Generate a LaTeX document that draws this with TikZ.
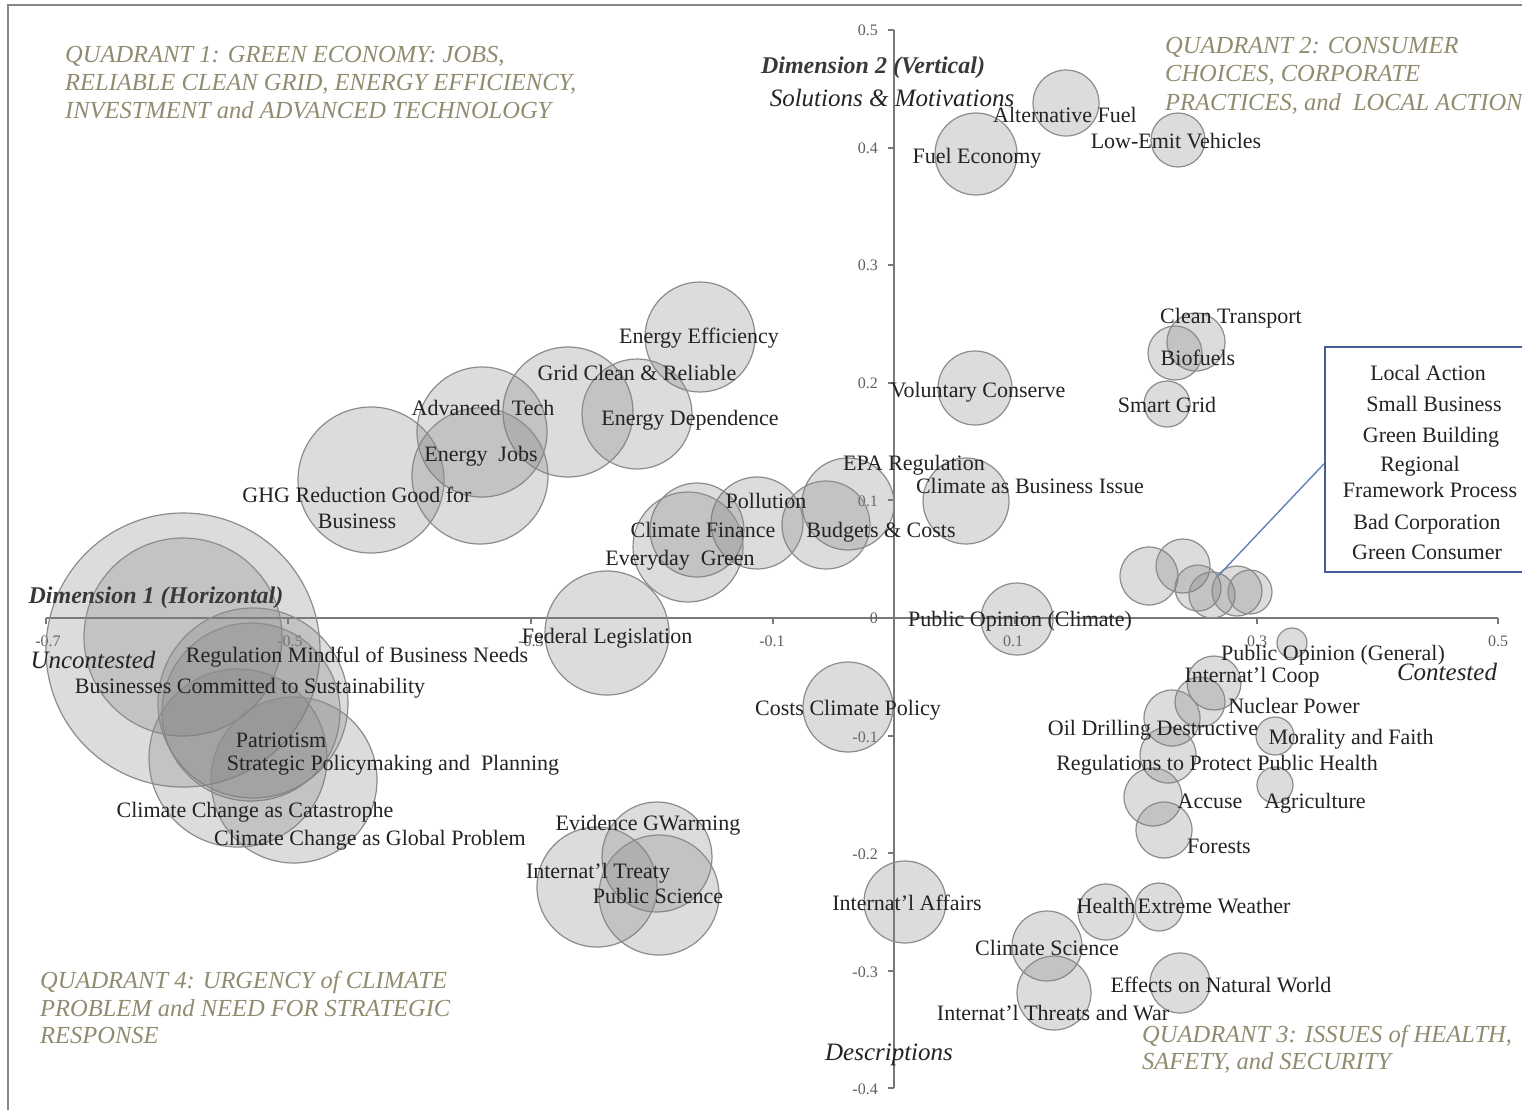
\documentclass[tikz,border=0pt]{standalone}
\usepackage{fontspec}
\setmainfont{Liberation Serif}
\definecolor{bubline}{RGB}{140,140,140}
\definecolor{bubfill}{RGB}{128,128,128}
\definecolor{axcol}{RGB}{120,120,120}
\definecolor{txt}{RGB}{35,35,35}
\definecolor{quadcol}{RGB}{145,140,112}
\definecolor{ticktxt}{RGB}{95,95,95}
\definecolor{framecol}{RGB}{135,135,135}
\definecolor{boxblue}{RGB}{70,95,155}
\definecolor{lineblue}{RGB}{95,130,185}
\tikzset{
  bub/.style={circle, draw=bubline, line width=1.2pt, fill=bubfill, fill opacity=0.27, inner sep=0pt, minimum size=2*#1},
  lbl/.style={font=\fontsize{22}{24}\selectfont, text=txt, inner sep=0pt, anchor=base},
  quad/.style={font=\fontsize{24.5}{28}\selectfont\itshape, text=quadcol, inner sep=0pt, anchor=base west},
  axtitle/.style={font=\fontsize{25}{27}\selectfont\itshape, text=txt, inner sep=0pt, anchor=base},
  dimtitle/.style={font=\fontsize{24}{27}\selectfont\bfseries\itshape, text=txt!90, inner sep=0pt, anchor=base},
  ticklbl/.style={font=\fontsize{16}{18}\selectfont, text=ticktxt, inner sep=0pt},
  axline/.style={draw=axcol, line width=1.6pt},
  tickmark/.style={draw=axcol, line width=1.2pt},
  callbox/.style={draw=boxblue, line width=1.6pt, fill=white, inner sep=0pt},
  calline/.style={draw=lineblue, line width=1.4pt},
}
\begin{document}
\begin{tikzpicture}[x=1pt,y=-1pt]
\useasboundingbox (0,0) rectangle (1522,1109);
\clip (0,0) rectangle (1522,1109);
\fill[white] (0,0) rectangle (1522,1109);
% frame
\coordinate (fbl) at (8,1115);
\coordinate (ftl) at (8,5);
\coordinate (ftr) at (1530,5);
\draw[draw=framecol, line width=2pt] (fbl) -- (ftl) -- (ftr);

% axes
\coordinate (xl) at (46,618);
\coordinate (xr) at (1498,618);
\coordinate (yt) at (894,30);
\coordinate (yb) at (894,1088);
\draw[axline] (xl) -- (xr);
\draw[axline] (yt) -- (yb);
\foreach \v in {30,148,265,383,500,618,736,853,971,1088}
  \draw[tickmark] (888,\v) -- (894,\v);
\foreach \u in {46,288,531,773,1015,1257,1498}
  \draw[tickmark] (\u,618) -- (\u,624);

% tick labels
\node[ticklbl, anchor=east] (v1) at (878,30) {0.5};
\node[ticklbl, anchor=east] (v2) at (878,148) {0.4};
\node[ticklbl, anchor=east] (v3) at (878,265) {0.3};
\node[ticklbl, anchor=east] (v4) at (878,383) {0.2};
\node[ticklbl, anchor=east] (v5) at (878,501) {0.1};
\node[ticklbl, anchor=east] (v6) at (878,618) {0};
\node[ticklbl, anchor=east] (v7) at (878,737) {-0.1};
\node[ticklbl, anchor=east] (v8) at (878,854) {-0.2};
\node[ticklbl, anchor=east] (v9) at (878,972) {-0.3};
\node[ticklbl, anchor=east] (v10) at (878,1089) {-0.4};
\node[ticklbl, anchor=base] (h1) at (48,646) {-0.7};
\node[ticklbl, anchor=base] (h2) at (290,646) {-0.5};
\node[ticklbl, anchor=base] (h3) at (531,646) {-0.3};
\node[ticklbl, anchor=base] (h4) at (772,646) {-0.1};
\node[ticklbl, anchor=base] (h5) at (1013,646) {0.1};
\node[ticklbl, anchor=base] (h6) at (1257,646) {0.3};
\node[ticklbl, anchor=base] (h7) at (1498,646) {0.5};

% bubbles: top
\node[bub=33] (b_altfuel) at (1066,103) {};
\node[bub=41] (b_fuelecon) at (976,154) {};
\node[bub=27] (b_lowemit) at (1178,140) {};
% quadrant 1 cluster
\node[bub=55] (b_effic) at (700,337) {};
\node[bub=65] (b_grid) at (568,412) {};
\node[bub=55] (b_depend) at (637,414) {};
\node[bub=65] (b_advtech) at (482,432) {};
\node[bub=68] (b_jobs) at (480,476) {};
\node[bub=73] (b_ghg) at (371,480) {};
% middle
\node[bub=46] (b_epa) at (848,504) {};
\node[bub=44] (b_budget) at (826,525) {};
\node[bub=46] (b_pollut) at (757,523) {};
\node[bub=47] (b_clfin) at (697,530) {};
\node[bub=55] (b_everyday) at (688,547) {};
\node[bub=43] (b_clbiz) at (966,501) {};
\node[bub=37] (b_volcons) at (975,388) {};
\node[bub=36] (b_pubopcl) at (1017,619) {};
\node[bub=62] (b_fedleg) at (607,633) {};
\node[bub=45] (b_costs) at (848,707) {};
% big cluster
\node[bub=137] (b_bizcomm) at (183,650) {};
\node[bub=99] (b_uncont) at (183,637) {};
\node[bub=95] (b_regmind) at (253,703) {};
\node[bub=89] (b_strat) at (251,712) {};
\node[bub=89] (b_catast) at (238,758) {};
\node[bub=83] (b_patriot) at (294,780) {};
% evidence cluster
\node[bub=55] (b_evid) at (657,857) {};
\node[bub=60] (b_treaty) at (597,887) {};
\node[bub=60] (b_pubsci) at (659,895) {};
% bottom
\node[bub=41] (b_intaff) at (905,902) {};
\node[bub=35] (b_clsci) at (1047,946) {};
\node[bub=37] (b_threats) at (1054,993) {};
\node[bub=28] (b_health) at (1106,912) {};
\node[bub=24] (b_extreme) at (1159,907) {};
\node[bub=30] (b_effects) at (1180,983) {};
% right lower
\node[bub=15] (b_pubopgen) at (1292,643) {};
\node[bub=27] (b_coop) at (1214,683) {};
\node[bub=25] (b_nuclear) at (1200,702) {};
\node[bub=28] (b_oil) at (1172,718) {};
\node[bub=28] (b_regph) at (1168,755) {};
\node[bub=19] (b_moral) at (1275,736) {};
\node[bub=18] (b_agri) at (1275,785) {};
\node[bub=29] (b_accuse) at (1153,797) {};
\node[bub=28] (b_forests) at (1164,830) {};
% right upper
\node[bub=29] (b_cleantr) at (1196,342) {};
\node[bub=27] (b_biofuel) at (1175,353) {};
\node[bub=23] (b_smart) at (1167,404) {};
% callout cluster
\node[bub=29] (b_c1) at (1149,576) {};
\node[bub=27] (b_c2) at (1183,566) {};
\node[bub=23] (b_c3) at (1198,588) {};
\node[bub=23] (b_c4) at (1212,595) {};
\node[bub=25] (b_c5) at (1237,591) {};
\node[bub=22] (b_c6) at (1250,592) {};

% labels
\node[lbl] (l_altfuel) at (1065,122) {Alternative Fuel};
\node[lbl] (l_fuelecon) at (977,163) {Fuel Economy};
\node[lbl] (l_lowemit) at (1176,148) {Low-Emit Vehicles};
\node[lbl] (l_effic) at (699,343) {Energy Efficiency};
\node[lbl] (l_grid) at (637,380) {Grid Clean \& Reliable};
\node[lbl] (l_advtech) at (483,415) {Advanced\ \ Tech};
\node[lbl] (l_depend) at (690,425) {Energy Dependence};
\node[lbl] (l_jobs) at (481,461) {Energy\ \ Jobs};
\node[lbl] (l_ghga) at (357,502) {GHG Reduction Good for};
\node[lbl] (l_ghgb) at (357,528) {Business};
\node[lbl] (l_volcons) at (978,397) {Voluntary Conserve};
\node[lbl] (l_epa) at (914,470) {EPA Regulation};
\node[lbl] (l_clbiz) at (1030,493) {Climate as Business Issue};
\node[lbl] (l_pollut) at (766,508) {Pollution};
\node[lbl] (l_clfin) at (703,537) {Climate Finance};
\node[lbl] (l_budget) at (881,537) {Budgets \& Costs};
\node[lbl] (l_everyday) at (680,565) {Everyday\ \ Green};
\node[lbl] (l_pubopcl) at (1020,626) {Public Opinion (Climate)};
\node[lbl] (l_fedleg) at (607,643) {Federal Legislation};
\node[lbl] (l_regmind) at (357,662) {Regulation Mindful of Business Needs};
\node[lbl] (l_bizcomm) at (250,693) {Businesses Committed to Sustainability};
\node[lbl] (l_patriot) at (281,747) {Patriotism};
\node[lbl] (l_strat) at (393,770) {Strategic Policymaking and\ \ Planning};
\node[lbl] (l_catast) at (255,817) {Climate Change as Catastrophe};
\node[lbl] (l_global) at (370,845) {Climate Change as Global Problem};
\node[lbl] (l_evid) at (648,830) {Evidence GWarming};
\node[lbl] (l_treaty) at (598,878) {Internat'l Treaty};
\node[lbl] (l_pubsci) at (658,903) {Public Science};
\node[lbl] (l_costs) at (848,715) {Costs Climate Policy};
\node[lbl] (l_intaff) at (907,910) {Internat'l Affairs};
\node[lbl] (l_clsci) at (1047,955) {Climate Science};
\node[lbl] (l_threats) at (1053,1020) {Internat'l Threats and War};
\node[lbl] (l_health) at (1106,913) {Health};
\node[lbl] (l_extreme) at (1214,913) {Extreme Weather};
\node[lbl] (l_effects) at (1221,992) {Effects on Natural World};
\node[lbl] (l_pubopgen) at (1333,660) {Public Opinion (General)};
\node[lbl] (l_coop) at (1252,682) {Internat'l Coop};
\node[lbl] (l_nuclear) at (1294,713) {Nuclear Power};
\node[lbl] (l_oil) at (1153,735) {Oil Drilling Destructive};
\node[lbl] (l_moral) at (1351,744) {Morality and Faith};
\node[lbl] (l_regph) at (1217,770) {Regulations to Protect Public Health};
\node[lbl] (l_accuse) at (1210,808) {Accuse};
\node[lbl] (l_agri) at (1315,808) {Agriculture};
\node[lbl] (l_forests) at (1219,853) {Forests};
\node[lbl] (l_cleantr) at (1231,323) {Clean Transport};
\node[lbl] (l_biofuel) at (1198,365) {Biofuels};
\node[lbl] (l_smart) at (1167,412) {Smart Grid};

% axis titles
\node[dimtitle] (t_dim2) at (873,73) {Dimension 2 (Vertical)};
\node[axtitle] (t_sol) at (892,106) {Solutions \& Motivations};
\node[dimtitle] (t_dim1) at (156,603) {Dimension 1 (Horizontal)};
\node[axtitle] (t_unc) at (93,668) {Uncontested};
\node[axtitle] (t_con) at (1447,680) {Contested};
\node[axtitle] (t_desc) at (889,1060) {Descriptions};

% quadrant labels
\node[quad] (q1a) at (65,62) {QUADRANT 1: GREEN ECONOMY: JOBS,};
\node[quad] (q1b) at (65,90) {RELIABLE CLEAN GRID, ENERGY EFFICIENCY,};
\node[quad] (q1c) at (65,118) {INVESTMENT and ADVANCED TECHNOLOGY};
\node[quad] (q2a) at (1165,53) {QUADRANT 2: CONSUMER};
\node[quad] (q2b) at (1165,81) {CHOICES, CORPORATE};
\node[quad] (q2c) at (1165,110) {PRACTICES, and\ \ LOCAL ACTION};
\node[quad] (q3a) at (1142,1042) {QUADRANT 3: ISSUES of HEALTH,};
\node[quad] (q3b) at (1142,1069) {SAFETY, and SECURITY};
\node[quad] (q4a) at (40,988) {QUADRANT 4: URGENCY of CLIMATE};
\node[quad] (q4b) at (40,1016) {PROBLEM and NEED FOR STRATEGIC};
\node[quad] (q4c) at (40,1043) {RESPONSE};

% callout
\node[callbox, anchor=north west, minimum width=230, minimum height=225] (callout) at (1324,346) {};
\coordinate (ctip) at (1218,576);
\draw[calline] ([yshift=-4.5pt]callout.west) -- (ctip);
\node[lbl] (k1) at (1428,380) {Local Action};
\node[lbl] (k2) at (1434,411) {Small Business};
\node[lbl] (k3) at (1431,442) {Green Building};
\node[lbl] (k4) at (1420,471) {Regional};
\node[lbl] (k5) at (1430,497) {Framework Process};
\node[lbl] (k6) at (1427,529) {Bad Corporation};
\node[lbl] (k7) at (1427,559) {Green Consumer};
\end{tikzpicture}
\end{document}
